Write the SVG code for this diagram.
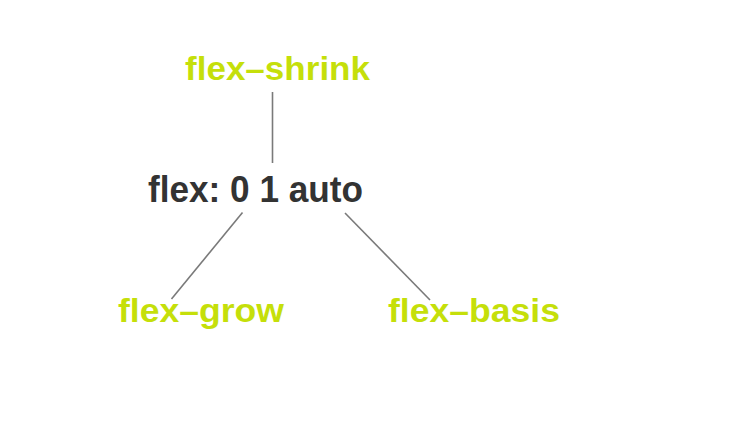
<svg xmlns="http://www.w3.org/2000/svg" width="736" height="446" viewBox="0 0 736 446">
<style>
.lbl{font-family:"Liberation Sans",Arial,sans-serif;font-weight:bold;font-size:34px;fill:#c5df0a}
.main{font-family:"Liberation Sans",Arial,sans-serif;font-weight:bold;font-size:37px;fill:#333333}
.conn line{stroke:#7a7a7a;stroke-width:1.6;fill:none}
</style>
<rect width="736" height="446" fill="#ffffff"/>
<g class="conn" id="connectors">
<line x1="272.5" y1="92" x2="272.5" y2="163"/>
<line x1="242.5" y1="212.5" x2="171.5" y2="299"/>
<line x1="345" y1="213" x2="430" y2="300"/>
</g>
<g id="flex-shrink"><text class="lbl" x="185" y="80" textLength="185" lengthAdjust="spacingAndGlyphs">flex–shrink</text></g>
<g id="flex"><text class="main" x="148" y="202" textLength="215" lengthAdjust="spacingAndGlyphs">flex: 0 1 auto</text></g>
<g id="flex-grow"><text class="lbl" x="118" y="322" textLength="166" lengthAdjust="spacingAndGlyphs">flex–grow</text></g>
<g id="flex-basis"><text class="lbl" x="388" y="322" textLength="172" lengthAdjust="spacingAndGlyphs">flex–basis</text></g>
</svg>
